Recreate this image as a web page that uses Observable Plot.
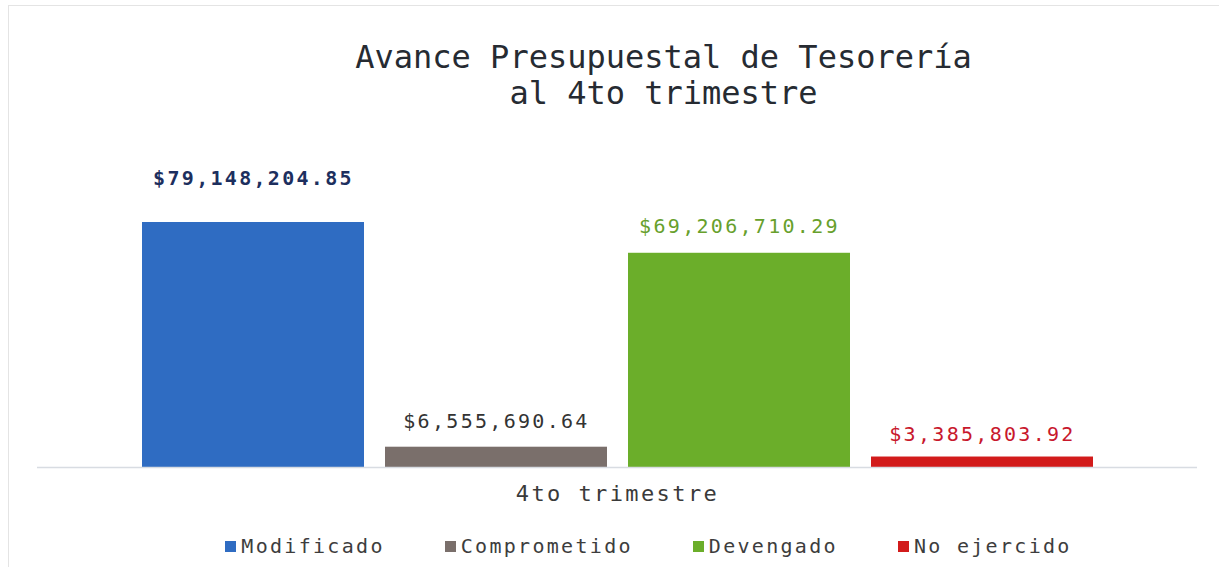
<!DOCTYPE html>
<html><head><meta charset="utf-8">
<script src="https://cdn.jsdelivr.net/npm/d3@7"></script>
<script src="https://cdn.jsdelivr.net/npm/@observablehq/plot@0.6"></script>
<style>
body{margin:0;background:#fff;width:1219px;height:567px;overflow:hidden;position:relative;font-family:"DejaVu Sans Mono",monospace;}
#frame{position:absolute;left:8px;top:5px;width:1230px;height:600px;border-left:1px solid #e4e4e4;border-top:1px solid #e4e4e4;}
#title{position:absolute;left:54px;width:1219px;top:39px;text-align:center;font-size:32px;line-height:36px;color:#262b32;}
#chart{position:absolute;left:0;top:120px;}
#legend{position:absolute;left:39px;width:1219px;top:534px;display:flex;justify-content:center;align-items:center;font-size:20px;line-height:24px;color:#3d3d3d;letter-spacing:2.3px;}
#legend .item{display:flex;align-items:center;margin:0 30px;}
#legend .sw{width:11px;height:11px;margin-right:5px;}
</style></head>
<body>
<div id="frame"></div>
<div id="title">Avance Presupuestal de Tesorería<br>al 4to trimestre</div>
<div id="chart"></div>
<div id="legend"></div>
<script>
const categories = ["Modificado", "Comprometido", "Devengado", "No ejercido"];
const values = [79148204.85, 6555690.64, 69206710.29, 3385803.92];
const valueLabels = ["$79,148,204.85", "$6,555,690.64", "$69,206,710.29", "$3,385,803.92"];
const period = ["4to trimestre"];

const barColors = ["#2f6cc2", "#7a6f6b", "#6bae2a", "#d21b1b"];
const labelColors = ["#1d2f5e", "#333333", "#67a02c", "#c8182c"];
const labelDy = [-44, -26, -27, -22];

const data = categories.map((c, i) => ({serie: c, valor: values[i], etiqueta: valueLabels[i], periodo: period[0]}));

const chart = Plot.plot({
  width: 1219, height: 420,
  marginLeft: 37, marginRight: 22, marginTop: 102, marginBottom: 73,
  style: {fontFamily: "DejaVu Sans Mono, monospace", background: "transparent"},
  fx: {domain: period, padding: 0, axis: null},
  x: {domain: categories, paddingInner: 0.0883, paddingOuter: 0.426, axis: null},
  y: {domain: [0, d3.max(values)], axis: null},
  color: {domain: categories, range: barColors},
  marks: [
    Plot.barY(data, {fx: "periodo", x: "serie", y: "valor", fill: "serie"}),
    Plot.ruleY([0], {stroke: "#d8dce2", strokeWidth: 1.5}),
    ...categories.map((c, i) => Plot.text(data.filter(d => d.serie === c), {
      fx: "periodo", x: "serie", y: "valor", text: "etiqueta",
      fill: labelColors[i], dy: labelDy[i], fontSize: 20,
      fontWeight: i === 0 ? "bold" : (i === 1 ? 500 : "normal")
    })),
    Plot.text(period, {fx: d => d, text: d => d, frameAnchor: "bottom", dy: 33, fontSize: 22, fill: "#3a3a3a"})
  ]
});
document.getElementById("chart").appendChild(chart);

// letter spacing to match the reference's wide monospace text
d3.select(chart).selectAll("text").each(function() {
  const t = this.textContent;
  if (valueLabels.includes(t)) d3.select(this).style("letter-spacing", "2.3px");
  else if (period.includes(t)) d3.select(this).style("letter-spacing", "2.4px");
});

const legend = d3.select("#legend");
categories.forEach((c, i) => {
  const it = legend.append("div").attr("class", "item");
  it.append("div").attr("class", "sw").style("background", barColors[i]);
  it.append("span").text(c);
});
</script>
</body></html>
